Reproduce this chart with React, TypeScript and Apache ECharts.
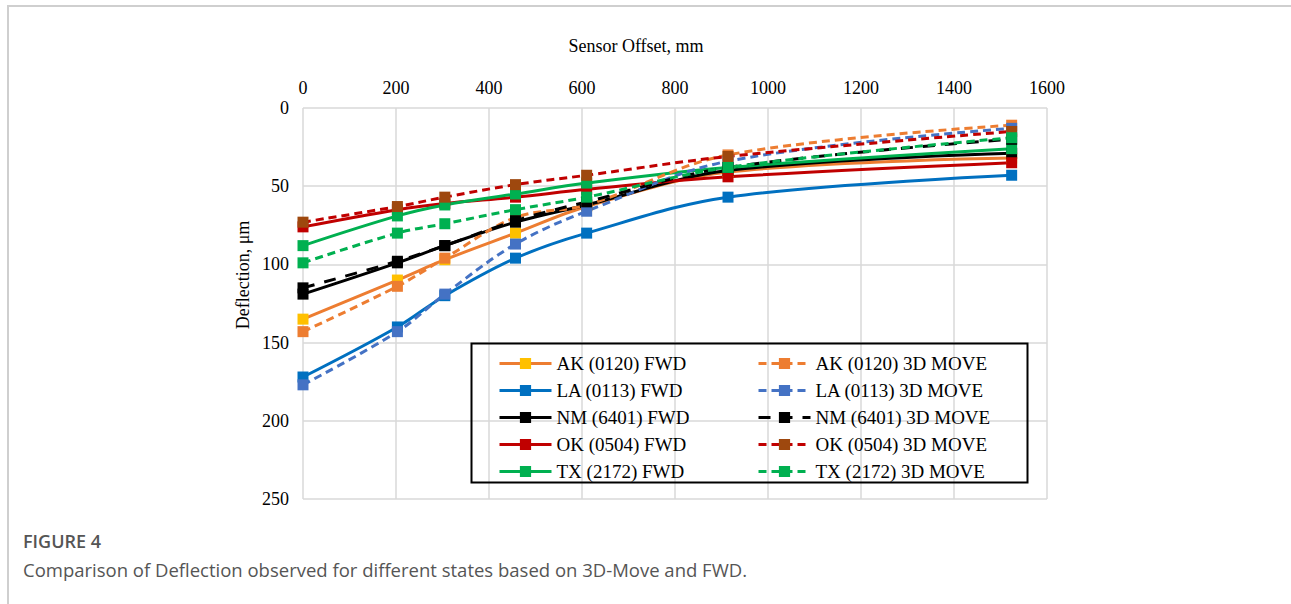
import React, { useEffect, useRef } from "react";
import * as echarts from "echarts";

const offsets = [0, 203, 305, 457, 610, 914, 1524];

const akFwd = [135, 110, 97, 80, 63, 41, 32];
const ak3d = [143, 114, 96, 70, 62, 30, 11];
const laFwd = [172, 140, 120, 96, 80, 57, 43];
const la3d = [177, 143, 119, 87, 66, 34, 13];
const nmFwd = [119, 99, 88, 73, 62, 40, 29];
const nm3d = [115, 98, 88, 72, 60, 38, 20];
const okFwd = [76, 65, 61, 57, 52, 44, 35];
const ok3d = [73, 63, 57, 49, 43, 31, 15];
const txFwd = [88, 69, 62, 55, 48, 38, 26];
const tx3d = [99, 80, 74, 65, 57, 38, 19];

const names = [
  "AK (0120) FWD", "LA (0113) FWD", "NM (6401) FWD", "OK (0504) FWD", "TX (2172) FWD",
  "AK (0120) 3D MOVE", "LA (0113) 3D MOVE", "NM (6401) 3D MOVE", "OK (0504) 3D MOVE", "TX (2172) 3D MOVE",
];

const SERIF = "'Liberation Serif', 'Times New Roman', serif";

function mk(name: string, vals: number[], line: string, marker: string, dash: any) {
  return {
    name,
    type: "line",
    smooth: 0.35,
    data: offsets.map((x, i) => [x, vals[i]]),
    symbol: "rect",
    symbolSize: 11,
    itemStyle: { color: marker },
    lineStyle: { color: line, width: 3, type: dash },
    emphasis: { disabled: true },
  };
}

export default function App() {
  const ref = useRef<HTMLDivElement>(null);
  useEffect(() => {
    const chart = echarts.init(ref.current!, null, { renderer: "svg" });
    const dashed = [8, 5];
    const series = [
      mk(names[0], akFwd, "#ED7D31", "#FFC000", "solid"),
      mk(names[1], laFwd, "#0070C0", "#0070C0", "solid"),
      mk(names[2], nmFwd, "#000000", "#000000", "solid"),
      mk(names[3], okFwd, "#C00000", "#C00000", "solid"),
      mk(names[4], txFwd, "#00B050", "#00B050", "solid"),
      mk(names[5], ak3d, "#ED7D31", "#ED7D31", dashed),
      mk(names[6], la3d, "#4472C4", "#4472C4", dashed),
      mk(names[7], nm3d, "#000000", "#000000", [12, 10]),
      mk(names[8], ok3d, "#C00000", "#9E480E", dashed),
      mk(names[9], tx3d, "#00B050", "#00B050", dashed),
    ];
    const legendCommon = {
      orient: "vertical",
      itemWidth: 52,
      itemHeight: 14,
      itemGap: 8,
      selectedMode: false,
      lineStyle: { width: 3 },
      textStyle: { fontFamily: SERIF, fontSize: 19, color: "#000", lineHeight: 19 },
    };
    const lblX = { fontFamily: SERIF, fontSize: 18, color: "#000", margin: 11, formatter: (v: number) => String(v) };
    const lblY = { fontFamily: SERIF, fontSize: 18, color: "#000", margin: 14, formatter: (v: number) => String(v) };
    chart.setOption({
      animation: false,
      grid: { left: 303, right: 244, top: 108, bottom: 105 },
      xAxis: {
        type: "value",
        position: "top",
        min: 0,
        max: 1600,
        interval: 200,
        axisLine: { show: false },
        axisTick: { show: false },
        axisLabel: lblX,
        splitLine: { lineStyle: { color: "#d9d9d9", width: 1.5 } },
      },
      yAxis: {
        type: "value",
        inverse: true,
        min: 0,
        max: 250,
        interval: 50,
        axisLine: { show: false },
        axisTick: { show: false },
        axisLabel: lblY,
        splitLine: { lineStyle: { color: "#d9d9d9", width: 1.5 } },
      },
      legend: [
        { ...legendCommon, left: 493, top: 349, data: names.slice(0, 5) },
        { ...legendCommon, left: 752, top: 349, data: names.slice(5) },
      ],
      graphic: [
        {
          type: "rect",
          shape: { x: 471.5, y: 343.5, width: 556, height: 139 },
          style: { fill: "none", stroke: "#000", lineWidth: 2 },
          z: 5,
        },
        {
          type: "text",
          x: 636,
          y: 46,
          style: { text: "Sensor Offset, mm", font: `18px ${SERIF}`, fill: "#000", textAlign: "center", textVerticalAlign: "middle" },
        },
        {
          type: "text",
          x: 243,
          y: 275,
          rotation: Math.PI / 2,
          style: { text: "Deflection, μm", font: `18px ${SERIF}`, fill: "#000", textAlign: "center", textVerticalAlign: "middle" },
        },
        {
          type: "text",
          x: 23,
          y: 541,
          style: { text: "FIGURE 4", font: "600 18px 'Open Sans', sans-serif", fill: "#555", textVerticalAlign: "middle" },
        },
        {
          type: "text",
          x: 23,
          y: 569,
          style: { text: "Comparison of Deflection observed for different states based on 3D-Move and FWD.", font: "18.5px 'Open Sans', sans-serif", fill: "#555", textVerticalAlign: "middle" },
        },
      ],
      series,
    });
    return () => chart.dispose();
  }, []);
  return (
    <div style={{ position: "absolute", left: 0, top: 0, width: 1291, height: 604, background: "#fff" }}>
      <div style={{ position: "absolute", left: 7, top: 5, width: 1284, height: 599, borderTop: "2px solid #cfcfcf", borderLeft: "2px solid #cfcfcf" }} />
      <div ref={ref} style={{ position: "absolute", left: 0, top: 0, width: 1291, height: 604 }} />
    </div>
  );
}
